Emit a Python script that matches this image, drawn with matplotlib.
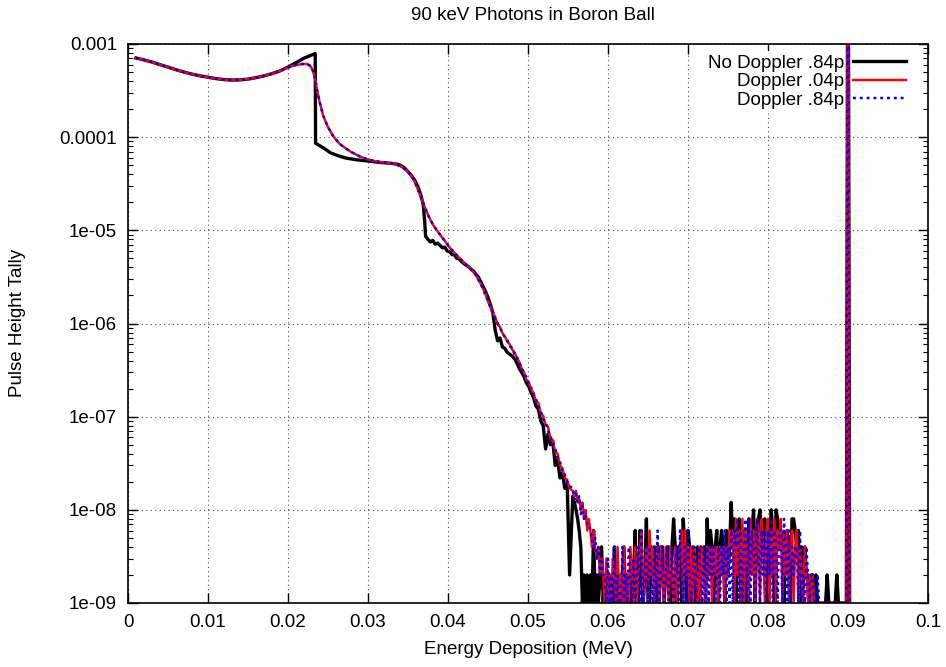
import numpy as np
import matplotlib
matplotlib.use("Agg")
import matplotlib.pyplot as plt
from matplotlib.ticker import LogLocator, NullFormatter

# --- data (energy in MeV, tally per source particle) ---

# smooth part shared by both Doppler runs
dop_energy = [0.001, 0.002, 0.003, 0.004, 0.005, 0.006, 0.007, 0.008, 0.009, 0.010,
              0.011, 0.012, 0.013, 0.014, 0.015, 0.016, 0.017, 0.018, 0.019, 0.020,
              0.021, 0.0218, 0.0224, 0.0228, 0.0231, 0.0234, 0.0237, 0.0240, 0.0244, 0.0250,
              0.0257, 0.0265, 0.0278, 0.0290, 0.0300, 0.0315, 0.0332, 0.0340, 0.0347, 0.0353,
              0.0358, 0.0362, 0.0366, 0.0370, 0.0376, 0.0382, 0.0390, 0.0397, 0.0403, 0.0411,
              0.0419, 0.0427, 0.0434, 0.0440, 0.0444]
dop_smooth = [7.08e-4, 6.75e-4, 6.4e-4, 6.0e-4, 5.65e-4, 5.3e-4, 5.0e-4, 4.75e-4, 4.55e-4, 4.4e-4,
              4.25e-4, 4.15e-4, 4.1e-4, 4.12e-4, 4.2e-4, 4.35e-4, 4.55e-4, 4.8e-4, 5.15e-4, 5.6e-4,
              5.95e-4, 6.1e-4, 6.1e-4, 5.8e-4, 5.2e-4, 4.2e-4, 3.0e-4, 2.3e-4, 1.7e-4, 1.28e-4,
              1.01e-4, 8.4e-5, 7.0e-5, 6.2e-5, 5.75e-5, 5.4e-5, 5.2e-5, 4.9e-5, 4.5e-5, 4.0e-5,
              3.4e-5, 2.8e-5, 2.3e-5, 1.85e-5, 1.4e-5, 1.12e-5, 9.0e-6, 7.5e-6, 6.4e-6, 5.4e-6,
              4.6e-6, 4.0e-6, 3.4e-6, 2.75e-6, 2.35e-6]

# noisy slope of the Doppler runs, 0.0447 .. 0.0552 in 0.0003 steps
dop04_slope = [2.05e-6, 1.72e-6, 1.52e-6, 1.30e-6, 1.18e-6, 9.8e-7, 9.2e-7, 7.9e-7, 7.3e-7, 6.4e-7,
               6.0e-7, 5.3e-7, 4.9e-7, 4.3e-7, 3.9e-7, 3.3e-7, 3.0e-7, 2.5e-7, 2.35e-7, 1.95e-7,
               1.8e-7, 1.45e-7, 1.4e-7, 1.08e-7, 1.02e-7, 8.2e-8, 7.8e-8, 5.8e-8, 5.5e-8, 4.2e-8,
               4.0e-8, 3.0e-8, 2.8e-8, 2.2e-8, 2.1e-8, 1.7e-8]
dop84_slope = [1.98e-6, 1.78e-6, 1.48e-6, 1.34e-6, 1.12e-6, 1.02e-6, 8.8e-7, 8.2e-7, 7.0e-7, 6.7e-7,
               5.7e-7, 5.5e-7, 4.7e-7, 4.5e-7, 3.7e-7, 3.5e-7, 2.8e-7, 2.7e-7, 2.2e-7, 2.05e-7,
               1.7e-7, 1.55e-7, 1.3e-7, 1.15e-7, 9.4e-8, 8.8e-8, 7.0e-8, 6.4e-8, 5.0e-8, 4.6e-8,
               3.5e-8, 3.3e-8, 2.5e-8, 2.4e-8, 1.9e-8, 1.8e-8]

# no-Doppler run up to the step and the shoulder
nodop_energy = [0.001, 0.002, 0.003, 0.004, 0.005, 0.006, 0.007, 0.008, 0.009, 0.010,
                0.011, 0.012, 0.013, 0.014, 0.015, 0.016, 0.017, 0.018, 0.019, 0.020,
                0.021, 0.022, 0.0234, 0.02345, 0.0245, 0.0253, 0.0263, 0.0273, 0.0287, 0.0300,
                0.0315, 0.0328, 0.0338, 0.0344, 0.0348, 0.0353, 0.0358, 0.0362, 0.0366, 0.0369,
                0.0371, 0.0372]
nodop_head = [7.08e-4, 6.75e-4, 6.4e-4, 6.0e-4, 5.65e-4, 5.3e-4, 5.0e-4, 4.75e-4, 4.55e-4, 4.4e-4,
              4.25e-4, 4.15e-4, 4.1e-4, 4.12e-4, 4.2e-4, 4.35e-4, 4.55e-4, 4.8e-4, 5.15e-4, 5.65e-4,
              6.3e-4, 7.05e-4, 7.9e-4, 8.6e-5, 7.6e-5, 6.8e-5, 6.3e-5, 5.95e-5, 5.7e-5, 5.55e-5,
              5.35e-5, 5.25e-5, 5.1e-5, 4.8e-5, 4.45e-5, 4.0e-5, 3.5e-5, 3.0e-5, 2.4e-5, 1.9e-5,
              1.2e-5, 8.6e-6]
# noisy part of the no-Doppler run, 0.0375 .. 0.0552 in 0.0003 steps
nodop_slope = [8.0e-6, 7.5e-6, 7.8e-6, 7.1e-6, 7.3e-6, 6.9e-6, 6.5e-6, 6.6e-6, 6.0e-6, 5.9e-6,
               5.5e-6, 5.45e-6, 5.0e-6, 4.95e-6, 4.6e-6, 4.4e-6, 4.2e-6, 4.05e-6, 3.8e-6, 3.65e-6,
               3.35e-6, 3.15e-6, 2.8e-6, 2.5e-6, 2.2e-6, 1.9e-6, 1.6e-6, 1.3e-6, 8.5e-7, 6.5e-7,
               7.0e-7, 5.6e-7, 5.4e-7, 4.9e-7, 4.7e-7, 4.5e-7, 4.2e-7, 3.8e-7, 3.3e-7, 3.0e-7,
               2.7e-7, 2.3e-7, 2.1e-7, 1.8e-7, 1.6e-7, 1.3e-7, 1.2e-7, 9.0e-8, 8.0e-8, 4.5e-8,
               6.5e-8, 5.0e-8, 5.5e-8, 3.0e-8, 3.4e-8, 2.2e-8, 2.5e-8, 1.7e-8, 1.9e-8, 2.0e-9]

# low-statistics tail, 0.0556 .. 0.0898 in 0.0002 steps, in units of 1e-9
nodop_tail = [14, 12, 10, 8, 6, 4, 1, 2, 1, 2,
              1, 2, 1, 6, 1, 2, 1, 2, 4, 1,
              2, 1, 2, 1, 2, 1, 4, 1, 1, 2,
              1, 2, 4, 1, 2, 1, 2, 1, 2, 6,
              1, 1, 6, 2, 1, 2, 8, 1, 1, 4,
              2, 4, 1, 4, 1, 4, 4, 1, 2, 4,
              4, 1, 4, 8, 4, 1, 4, 4, 1, 8,
              4, 1, 6, 4, 1, 4, 1, 2, 4, 1,
              4, 2, 4, 1, 8, 2, 6, 4, 1, 4,
              6, 1, 4, 6, 4, 1, 6, 2, 4, 12,
              4, 8, 1, 6, 8, 1, 6, 4, 6, 1,
              8, 4, 6, 10, 1, 6, 8, 10, 4, 6,
              8, 1, 6, 4, 10, 6, 1, 10, 8, 4,
              6, 4, 1, 4, 6, 4, 1, 8, 8, 6,
              4, 6, 1, 4, 2, 4, 2, 2, 1, 2,
              2, 1, 2, 1, 1, 1, 1, 1, 1, 2,
              1, 1, 1, 1, 1, 2, 1, 1, 1, 1,
              1, 1]
dop04_tail = [16, 14, 16, 12, 13, 10, 12, 8, 10, 6,
              8, 6, 4, 6, 4, 3, 4, 2, 3, 2,
              1, 3, 1, 2, 1, 3, 2, 1, 4, 1,
              2, 1, 4, 1, 2, 1, 4, 2, 1, 4,
              1, 2, 4, 6, 1, 2, 4, 1, 6, 2,
              4, 1, 2, 4, 1, 4, 2, 1, 4, 2,
              1, 4, 2, 1, 4, 1, 2, 4, 6, 1,
              6, 2, 4, 1, 4, 1, 4, 2, 1, 4,
              1, 4, 2, 1, 4, 2, 4, 1, 4, 2,
              4, 1, 4, 2, 4, 1, 4, 2, 6, 4,
              6, 1, 8, 2, 6, 1, 8, 1, 6, 3,
              1, 8, 2, 6, 1, 8, 6, 1, 8, 4,
              1, 6, 8, 1, 6, 2, 8, 1, 6, 4,
              8, 1, 6, 2, 6, 1, 4, 6, 1, 4,
              6, 1, 4, 2, 1, 4, 2, 1, 2, 1,
              2, 1, 1, 1, 1, 1, 1, 1, 1, 1,
              1, 1, 1, 1, 1, 1, 1, 1, 1, 1,
              1, 1]
dop84_tail = [17, 13, 15, 12, 14, 9, 11, 8, 9, 7,
              7, 6, 5, 4, 5, 3, 4, 2, 3, 2,
              2, 1, 3, 1, 2, 1, 4, 1, 2, 1,
              1, 4, 1, 2, 1, 4, 2, 1, 3, 1,
              2, 4, 1, 6, 1, 2, 4, 1, 4, 2,
              1, 4, 1, 6, 1, 2, 4, 1, 2, 4,
              1, 2, 4, 1, 2, 4, 1, 6, 2, 1,
              4, 1, 6, 2, 1, 2, 4, 1, 2, 4,
              2, 1, 4, 1, 4, 1, 4, 2, 4, 1,
              2, 4, 1, 4, 2, 6, 1, 4, 1, 6,
              1, 6, 4, 8, 1, 6, 1, 4, 8, 1,
              8, 1, 6, 4, 1, 8, 4, 1, 6, 2,
              6, 1, 6, 2, 8, 1, 6, 4, 1, 6,
              6, 1, 8, 4, 1, 6, 1, 4, 2, 4,
              4, 1, 6, 1, 2, 1, 4, 2, 1, 2,
              2, 1, 1, 2, 1, 1, 1, 1, 1, 1,
              1, 1, 1, 1, 1, 1, 1, 1, 1, 1,
              1, 1]

# full-energy peak at 90 keV
peak_energy = [0.0900, 0.0902]
peak_tally = [0.9, 1e-9]

labels = ["No Doppler .84p", "Doppler .04p", "Doppler .84p"]
x_ticks = [0, 0.01, 0.02, 0.03, 0.04, 0.05, 0.06, 0.07, 0.08, 0.09, 0.1]
x_ticklabels = ["0", "0.01", "0.02", "0.03", "0.04", "0.05", "0.06", "0.07", "0.08", "0.09", "0.1"]
y_ticks = [1e-9, 1e-8, 1e-7, 1e-6, 1e-5, 1e-4, 1e-3]
y_ticklabels = ["1e-09", "1e-08", "1e-07", "1e-06", "1e-05", "0.0001", "0.001"]


def build(head_e, head_v, slope_start, slope_v, tail_counts):
    slope_e = np.round(slope_start + 0.0003 * np.arange(len(slope_v)), 5)
    tail_e = np.round(0.0556 + 0.0002 * np.arange(len(tail_counts)), 5)
    x = np.concatenate([head_e, slope_e, tail_e, peak_energy])
    y = np.concatenate([head_v, slope_v, np.array(tail_counts) * 1e-9, peak_tally])
    return x, y


x_nd, y_nd = build(nodop_energy, nodop_head, 0.0375, nodop_slope, nodop_tail)
x_d4, y_d4 = build(dop_energy, dop_smooth, 0.0447, dop04_slope, dop04_tail)
x_d8, y_d8 = build(dop_energy, dop_smooth, 0.0447, dop84_slope, dop84_tail)

plt.rcParams["font.family"] = ["Liberation Sans", "DejaVu Sans"]
fs = 13.5

fig = plt.figure(figsize=(9.46, 6.67), dpi=100)
ax = fig.add_axes([128 / 946, 1 - 603 / 667, 800 / 946, 559 / 667])

ax.plot(x_nd, y_nd, color="black", lw=2.4, label=labels[0])
ax.plot(x_d4, y_d4, color="#ff0000", lw=1.75, label=labels[1])
ax.plot(x_d8, y_d8, color="#0000ff", lw=1.75, ls=(0, (1.2, 1.6)), label=labels[2])

ax.set_yscale("log")
ax.set_xlim(0, 0.1)
ax.set_ylim(1e-9, 1e-3)
ax.set_xticks(x_ticks, x_ticklabels)
ax.set_yticks(y_ticks, y_ticklabels)
ax.yaxis.set_minor_locator(LogLocator(base=10, subs=np.arange(2, 10)))
ax.yaxis.set_minor_formatter(NullFormatter())
ax.tick_params(which="major", direction="in", length=7, width=1.0,
               top=True, right=True, labelsize=fs, pad=8)
ax.tick_params(which="minor", direction="in", length=3.5, width=0.8, left=True, right=True)
ax.grid(True, which="major", color="0.3", ls=(0, (1, 3)), lw=0.8)
for s in ax.spines.values():
    s.set_linewidth(1.2)

leg = ax.legend(loc="upper right", bbox_to_anchor=(0.977, 0.988), borderaxespad=0,
                markerfirst=False, frameon=True, facecolor="white", edgecolor="none",
                framealpha=1, fancybox=False, fontsize=fs, handlelength=2.8,
                handletextpad=0.5, labelspacing=0.08, borderpad=0.2)
leg.set_zorder(1.5)

fig.text(533 / 946, 1 - 15 / 667, "90 keV Photons in Boron Ball", ha="center", va="center", fontsize=fs)
fig.text(528 / 946, 1 - 650 / 667, "Energy Deposition (MeV)", ha="center", va="center", fontsize=fs)
fig.text(18 / 946, 1 - 323 / 667, "Pulse Height Tally", ha="center", va="center",
         rotation=90, fontsize=fs)

fig.savefig("out.png", dpi=100)
